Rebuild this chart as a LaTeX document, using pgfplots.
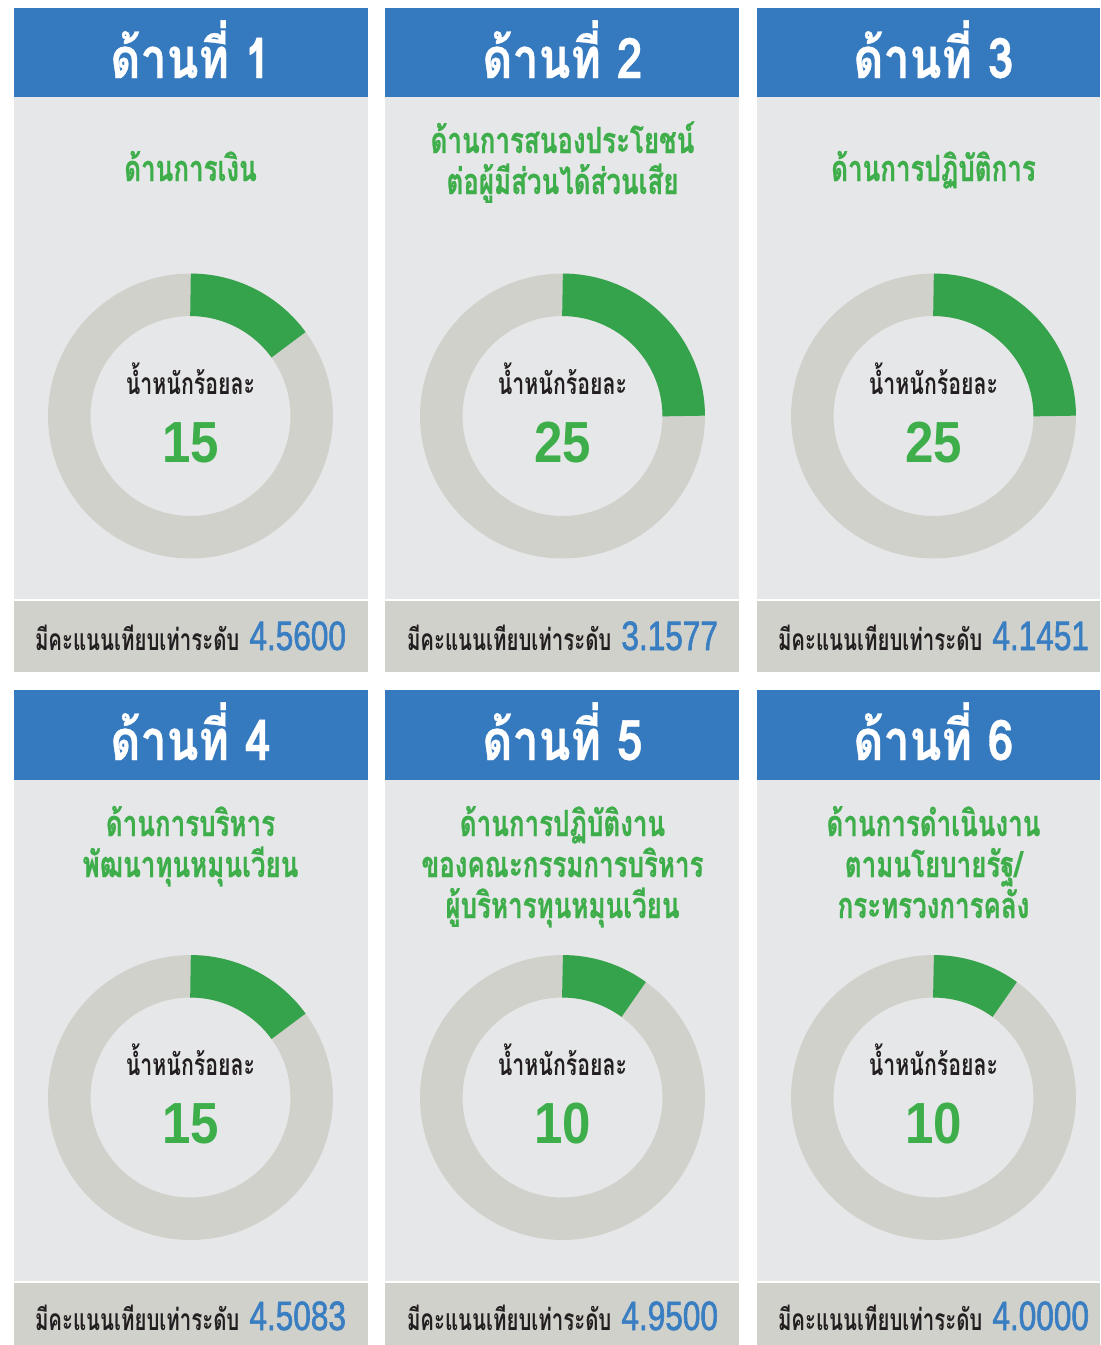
\documentclass[border=0pt]{standalone}
\usepackage{pgfplots}
\pgfplotsset{compat=1.18}
\usepackage{fontspec}
\setmainfont{Liberation Sans}
\newfontfamily\thaiH[Script=Thai, FakeStretch=0.83, FakeBold=0.6]{Loma}
\newfontfamily\thaiT[Script=Thai, FakeStretch=0.72, FakeBold=0.6]{Loma}
\newfontfamily\thaiL[Script=Thai, FakeStretch=0.71]{Loma}
\newfontfamily\thaiS[Script=Thai, FakeStretch=0.68]{Loma}
\newfontfamily\num[FakeStretch=0.88]{Liberation Sans}
\newfontfamily\scorefont[FakeStretch=0.77, FakeBold=1.5]{Liberation Sans}
\definecolor{hblue}{HTML}{357ABF}
\definecolor{bodyg}{HTML}{E6E7E8}
\definecolor{barg}{HTML}{D1D1CC}
\definecolor{ringg}{HTML}{D1D1CC}
\definecolor{arcg}{HTML}{34A34B}
\definecolor{tgreen}{HTML}{3DAE4A}
\definecolor{sblue}{HTML}{3A7EC2}
\definecolor{dark}{HTML}{231F20}
% panel: x0 x1 headtop headbot bodybot barbot
\newcommand{\panel}[6]{%
  \fill[hblue] (axis cs:#1,#3) rectangle (axis cs:#2,#4);
  \fill[bodyg] (axis cs:#1,#4) rectangle (axis cs:#2,#5);
  \fill[barg] (axis cs:#1,#5) rectangle (axis cs:#2,#6);
  \draw[white, line width=0.6pt] (axis cs:#1,#5) -- (axis cs:#2,#5);
}
% donut: cx cy weight labelbase numbase
\newcommand{\donut}[5]{%
  \draw[ringg, line width=21.25pt] (axis cs:#1,#2) circle[radius=60.6pt];
  \draw[arcg, line width=21.25pt] (axis cs:#1,#2) ++(90:60.6pt) arc[start angle=90, end angle={90-3.6*#3}, radius=60.6pt];
  \node[anchor=base, text=dark, font=\thaiL\bfseries\fontsize{15}{18}\selectfont, inner sep=0pt] at (axis cs:#1,#4) {น้ำหนักร้อยละ};
  \node[anchor=base, text=tgreen, font=\num\bfseries\fontsize{29}{32}\selectfont, inner sep=0pt] at (axis cs:#1,#5) {#3};
}
\newcommand{\head}[3]{%
  \node[anchor=base, text=white, font=\thaiH\bfseries\fontsize{28}{32}\selectfont, inner sep=0pt] at (axis cs:#1,#2) {ด้านที่ #3};
}
\newcommand{\ttl}[3]{%
  \node[anchor=base, text=tgreen, font=\thaiT\bfseries\fontsize{18}{20}\selectfont, inner sep=0pt] at (axis cs:#1,#2) {#3};
}
\newcommand{\score}[3]{%
  \node[anchor=base, inner sep=0pt] at (axis cs:#1,#2) {\textcolor{dark}{\thaiS\bfseries\fontsize{15}{18}\selectfont มีคะแนนเทียบเท่าระดับ}\hspace{5pt}\textcolor{sblue}{\scorefont\fontsize{20.5}{24}\selectfont #3}};
}
\begin{document}
\begin{tikzpicture}
\begin{axis}[x=0.5pt, y=0.5pt, y dir=reverse, xmin=0, xmax=1100, ymin=0, ymax=1345,
  hide axis, clip=false, scale only axis]
\fill[white] (axis cs:0,0) rectangle (axis cs:1100,1345);
\panel{14}{368}{8}{97}{600}{672}
\panel{385}{739}{8}{97}{600}{672}
\panel{757}{1100}{8}{97}{600}{672}
\panel{14}{368}{690}{780}{1282}{1345}
\panel{385}{739}{690}{780}{1282}{1345}
\panel{757}{1100}{690}{780}{1282}{1345}
% headers
\head{190.5}{78}{1}
\head{562.5}{78}{2}
\head{933.5}{78}{3}
\head{190.5}{760}{4}
\head{562.5}{760}{5}
\head{933.5}{760}{6}
% titles
\ttl{190.5}{181}{ด้านการเงิน}
\ttl{562.5}{153}{ด้านการสนองประโยชน์}
\ttl{562.5}{194}{ต่อผู้มีส่วนได้ส่วนเสีย}
\ttl{933.5}{181}{ด้านการปฏิบัติการ}
\ttl{190.5}{836}{ด้านการบริหาร}
\ttl{190.5}{877}{พัฒนาทุนหมุนเวียน}
\ttl{562.5}{836}{ด้านการปฏิบัติงาน}
\ttl{562.5}{877}{ของคณะกรรมการบริหาร}
\ttl{562.5}{918}{ผู้บริหารทุนหมุนเวียน}
\ttl{933.5}{836}{ด้านการดำเนินงาน}
\ttl{933.5}{877}{ตามนโยบายรัฐ/}
\ttl{933.5}{918}{กระทรวงการคลัง}
% donuts
\donut{190.5}{416}{15}{394}{462}
\donut{562.5}{416}{25}{394}{462}
\donut{933.5}{416}{25}{394}{462}
\donut{190.5}{1097.5}{15}{1075}{1143}
\donut{562.5}{1097.5}{10}{1075}{1143}
\donut{933.5}{1097.5}{10}{1075}{1143}
% scores
\score{190.5}{650}{4.5600}
\score{562.5}{650}{3.1577}
\score{933.5}{650}{4.1451}
\score{190.5}{1330}{4.5083}
\score{562.5}{1330}{4.9500}
\score{933.5}{1330}{4.0000}
\end{axis}
\end{tikzpicture}
\end{document}
